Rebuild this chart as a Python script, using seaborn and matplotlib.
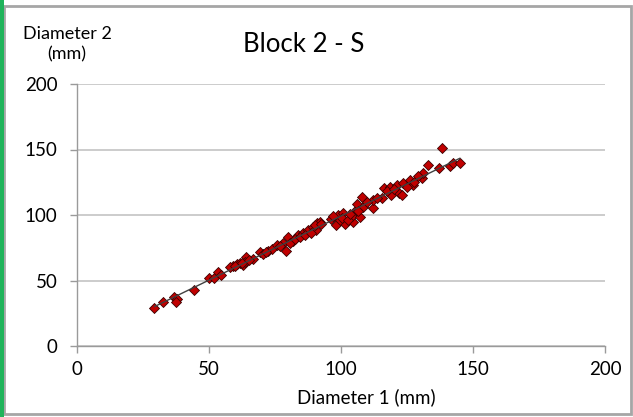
import matplotlib
matplotlib.use("Agg")
import matplotlib.pyplot as plt
import seaborn as sns
import pandas as pd
from matplotlib.patches import Rectangle

diameter_1 = [29.3, 32.5, 36.9, 38.0, 37.4, 44.3, 50.1, 51.9, 53.3, 54.4,
              59.0, 60.5, 61.7, 63.0, 63.9, 63.6, 66.8, 69.3, 72.5, 73.8,
              75.6, 78.1, 79.2, 80.0, 81.9, 83.8, 85.7, 87.6, 89.5, 91.0,
              90.5, 92.0, 96.1, 98.1, 99.0, 100.6, 101.5, 104.4, 104.1, 105.7,
              106.2, 107.2, 107.8, 108.4, 112.0, 112.2, 115.4, 116.3, 118.6, 118.8,
              121.1, 122.0, 123.0, 123.6, 126.1, 127.4, 130.6, 131.2, 133.1, 137.2,
              138.1, 141.3, 142.3, 145.1,
              58.0, 60.0, 62.5, 65.0, 70.5, 71.5, 77.0, 80.5, 82.5, 84.5,
              86.5, 88.5, 90.0, 92.5, 97.0, 99.5, 100.5, 102.5, 103.5, 106.5,
              110.0, 113.5, 117.5, 120.0, 125.0, 127.5, 129.0]
diameter_2 = [29.2, 33.8, 37.2, 36.1, 33.6, 42.7, 51.7, 52.1, 56.5, 54.2,
              61.3, 62.6, 63.6, 61.8, 68.2, 64.4, 66.4, 72.0, 72.5, 73.8,
              77.1, 78.4, 72.5, 83.4, 80.4, 84.7, 86.0, 88.5, 91.1, 94.1,
              88.5, 94.9, 96.9, 92.4, 100.0, 101.8, 93.1, 94.9, 99.2, 103.8,
              108.4, 98.7, 113.5, 106.3, 105.1, 111.5, 112.7, 120.4, 121.6, 115.3,
              122.9, 116.6, 115.3, 124.2, 126.7, 122.9, 128.0, 131.8, 138.2, 136.1,
              150.9, 137.4, 139.9, 139.9,
              60.5, 61.0, 63.0, 66.0, 70.0, 72.0, 76.0, 78.5, 82.0, 83.0,
              84.5, 86.5, 92.0, 93.0, 99.5, 96.0, 98.0, 96.5, 101.0, 103.0,
              110.0, 113.0, 118.0, 119.5, 121.5, 125.0, 129.5]

x_ticks = [0, 50, 100, 150, 200]
y_ticks = [0, 50, 100, 150, 200]
title = "Block 2 - S"
x_label = "Diameter 1 (mm)"
y_label = "Diameter 2\n(mm)"

df = pd.DataFrame({"d1": diameter_1, "d2": diameter_2})

sns.set_theme(style="white")
plt.rcParams["font.family"] = ["Lato", "DejaVu Sans"]

W, H = 633, 417
fig = plt.figure(figsize=(W / 100, H / 100), dpi=100)
ax = fig.add_axes([77 / W, 1 - 346 / H, (605 - 77) / W, (346 - 84) / H])

sns.regplot(data=df, x="d1", y="d2", ax=ax, ci=None, truncate=True, marker="D",
            scatter_kws=dict(s=26, color="#C00000",
                             edgecolor="#3a0000", linewidths=0.6, alpha=1, zorder=3),
            line_kws=dict(color="#404040", lw=1.0, zorder=4))

ax.set_xlim(0, 200)
ax.set_ylim(0, 200)
ax.set_xticks(x_ticks)
ax.set_yticks(y_ticks)
ax.set_xlabel("")
ax.set_ylabel("")
ax.grid(axis="y", color="#BEBEBE", lw=1.1)
ax.grid(axis="x", visible=False)
ax.set_axisbelow(True)
for s in ["top", "right"]:
    ax.spines[s].set_visible(False)
for s in ["left", "bottom"]:
    ax.spines[s].set_color("#9a9a9a")
    ax.spines[s].set_linewidth(1.0)
ax.tick_params(axis="both", which="both", length=5, width=1.0, color="#9a9a9a",
               labelsize=13.5, labelcolor="black", direction="out",
               bottom=True, left=True)
ax.tick_params(axis="y", pad=9)
ax.tick_params(axis="x", pad=6)

fig.text(304 / W, 1 - 45 / H, title, ha="center", va="center", fontsize=18.5, color="black")
fig.text(67 / W, 1 - 44 / H, y_label, ha="center", va="center", fontsize=13,
         color="black", linespacing=1.3)
fig.text(366 / W, 1 - 397 / H, x_label, ha="center", va="center", fontsize=13.5,
         color="black")

# chart frame and left accent bar
fig.patches.append(Rectangle((4 / W, 3 / H), (W - 6) / W, (H - 9) / H,
                             transform=fig.transFigure, fill=False,
                             edgecolor="#a6a6a6", lw=2.0))
fig.patches.append(Rectangle((0, 0), 4 / W, 1, transform=fig.transFigure,
                             facecolor="#1fb35a", edgecolor="none"))

fig.savefig("out.png", dpi=100, facecolor="white")
